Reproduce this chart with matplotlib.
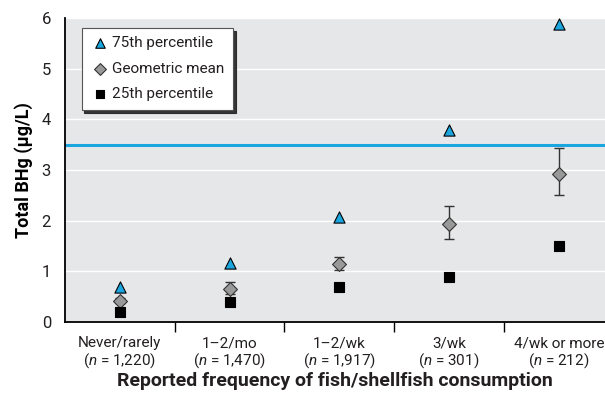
import matplotlib
matplotlib.use("Agg")
import matplotlib.pyplot as plt

# Datos
categorias = ["Never/rarely", "1\u20132/mo", "1\u20132/wk", "3/wk", "4/wk or more"]
n_muestras = ["1,220", "1,470", "1,917", "301", "212"]
p75 = [0.69, 1.16, 2.08, 3.78, 5.88]
media_geo = [0.42, 0.66, 1.14, 1.93, 2.93]
ic_bajo = [0.37, 0.56, 1.02, 1.63, 2.50]
ic_alto = [0.48, 0.79, 1.29, 2.28, 3.43]
p25 = [0.20, 0.39, 0.69, 0.89, 1.50]
limite = 3.5

plt.rcParams['font.family'] = ["Roboto", "DejaVu Sans"]
plt.rcParams['mathtext.fontset'] = "custom"
plt.rcParams['mathtext.it'] = "Roboto:italic"
plt.rcParams['text.color'] = "#231f20"
plt.rcParams['ytick.color'] = "#231f20"

fig = plt.figure(figsize=(6.05, 3.94), dpi=100)
ax = fig.add_axes([0.1074, 0.1827, 0.8926, 0.7716])
ax.set_facecolor("#e6e7e8")

x = list(range(len(categorias)))

ax.axhline(limite, color="#1ba6e0", lw=2.2, zorder=2)

err_inf = [m - b for m, b in zip(media_geo, ic_bajo)]
err_sup = [a - m for m, a in zip(media_geo, ic_alto)]
ax.errorbar(x, media_geo, yerr=[err_inf, err_sup], fmt="none", ecolor="#333333",
            elinewidth=1.0, capsize=3.5, capthick=1.0, zorder=3)

ax.scatter(x, p75, marker="^", s=65, facecolor="#1ba6e0", edgecolor="black",
           linewidth=0.8, zorder=4, label="75th percentile")
ax.scatter(x, media_geo, marker="D", s=50, facecolor="#999999", edgecolor="#333333",
           linewidth=0.8, zorder=4, label="Geometric mean")
ax.scatter(x, p25, marker="s", s=50, facecolor="black", edgecolor="black",
           linewidth=0.8, zorder=4, label="25th percentile")

ax.set_xlim(-0.5, 4.42)
ax.set_ylim(0, 6)
ax.set_yticks(range(0, 7))
ax.yaxis.grid(True, color="white", lw=1.0)
ax.set_axisbelow(True)
ax.tick_params(axis="y", length=0, labelsize=12, pad=10)

ax.set_xticks([0.5, 1.5, 2.5, 3.5])
ax.set_xticklabels([])
ax.tick_params(axis="x", length=7, width=1, direction="out")
for i, (cat, n) in enumerate(zip(categorias, n_muestras)):
    ax.text(i, -0.42, cat, ha="center", va="center", fontsize=11)
    ax.text(i, -0.77, "($\\mathit{n}$ = " + n + ")", ha="center", va="center", fontsize=11)

for lado in ["top", "right"]:
    ax.spines[lado].set_visible(False)
ax.spines["left"].set_linewidth(1.3)
ax.spines["bottom"].set_linewidth(1.3)

ax.set_ylabel("Total BHg (\u00b5g/L)", fontsize=13, fontweight="bold", labelpad=6)
fig.text(0.5535, 0.034, "Reported frequency of fish/shellfish consumption",
         ha="center", va="center", fontsize=14, fontweight="bold")

ley = ax.legend(loc="upper left", bbox_to_anchor=(0.031, 0.967), borderaxespad=0,
                fontsize=11, frameon=True, fancybox=False,
                shadow={'color': '#222222', 'alpha': 0.9},
                borderpad=0.55, labelspacing=0.75, handletextpad=0.15,
                scatterpoints=1, markerscale=0.85, handlelength=1.3)
ley.get_frame().set_edgecolor("#555555")
ley.get_frame().set_linewidth(0.8)

fig.savefig("out.png", dpi=100)
